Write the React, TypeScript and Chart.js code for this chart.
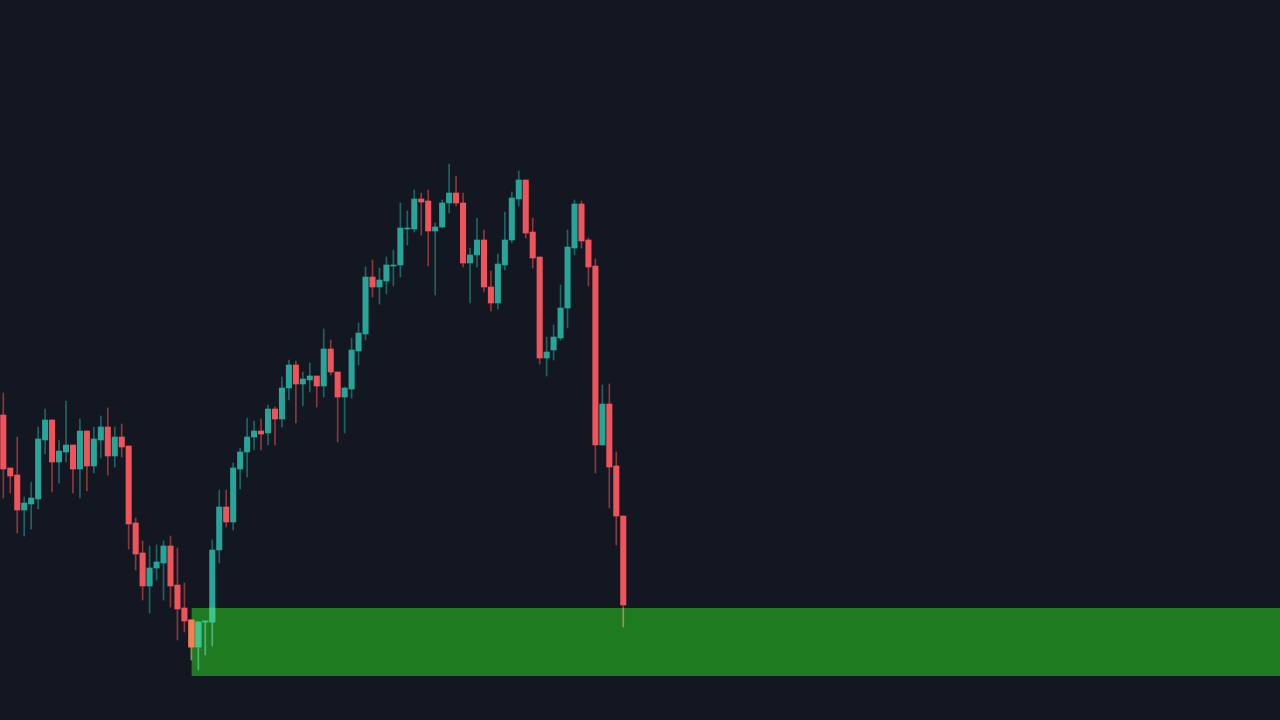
import { useEffect, useRef } from "react"
import Chart from "chart.js/auto"

// candles, price = height above the bottom edge
const opens = [
  305, 252, 245, 210, 216, 221, 280, 300, 258, 268, 275, 251, 289, 254, 280, 293, 264, 283, 274, 197,
  167, 134, 152, 157, 174, 135, 112, 100, 73, 98, 98, 170, 213, 198, 251, 268, 283, 289, 287, 311,
  301, 332, 355, 336, 340, 344, 334, 371, 348, 323, 331, 369, 386, 443, 433, 439, 454, 455, 491, 491,
  521, 519, 489, 493, 517, 527, 517, 457, 465, 480, 433, 417, 455, 480, 521, 540, 488, 463, 362, 370,
  382, 412, 472, 516, 480, 454, 275, 316, 254, 204,
]
const closes = [
  251, 244, 210, 217, 222, 281, 300, 258, 269, 275, 251, 289, 254, 281, 293, 264, 283, 273, 196, 166,
  134, 152, 158, 174, 134, 111, 99, 73, 98, 99, 170, 213, 198, 252, 268, 283, 289, 286, 311, 301,
  332, 355, 336, 341, 344, 334, 371, 348, 323, 332, 370, 387, 443, 433, 440, 455, 455, 492, 492, 521,
  518, 489, 493, 517, 527, 517, 457, 465, 480, 433, 417, 456, 480, 522, 540, 487, 462, 362, 368, 383,
  412, 473, 516, 479, 453, 275, 316, 253, 204, 115,
]
const highs = [
  327, 252, 283, 223, 238, 293, 311, 300, 280, 319, 275, 301, 289, 293, 304, 312, 293, 296, 274, 202,
  179, 174, 175, 179, 184, 172, 137, 100, 98, 99, 180, 230, 230, 257, 272, 302, 299, 301, 315, 313,
  343, 360, 359, 348, 357, 344, 391, 380, 348, 333, 382, 397, 453, 460, 452, 463, 470, 517, 509, 530,
  527, 530, 497, 520, 556, 544, 527, 472, 502, 490, 449, 466, 508, 528, 549, 540, 502, 463, 383, 395,
  435, 490, 520, 519, 482, 461, 335, 336, 268, 204,
]
const lows = [
  222, 227, 187, 184, 191, 211, 266, 228, 237, 258, 227, 222, 229, 247, 262, 245, 253, 263, 171, 150,
  120, 107, 140, 120, 113, 80, 88, 60, 50, 65, 74, 157, 193, 190, 231, 243, 270, 270, 275, 275,
  293, 320, 297, 314, 328, 313, 323, 345, 278, 287, 322, 355, 380, 423, 416, 426, 434, 443, 475, 488,
  485, 454, 425, 492, 507, 514, 453, 417, 453, 428, 409, 411, 450, 477, 514, 482, 452, 356, 344, 360,
  380, 392, 465, 472, 434, 247, 275, 212, 175, 93,
]

const zoneStart = 27
const zoneEnd = 184
const zoneTop = 112
const zoneBottom = 44

const upColor = "#27a598"
const downColor = "#f0535a"
const upWick = "rgba(38,166,154,0.55)"
const downWick = "rgba(239,83,80,0.55)"
// candles look lighter where the zone lies over them
const upInZone = "#3cc68c"
const downInZone = "#ee8452"
const wickInZone = "rgba(130,205,140,0.5)"

export default function App() {
  const chartRef = useRef<HTMLCanvasElement>(null)

  useEffect(() => {
    if (!chartRef.current) return
    const ctx = chartRef.current.getContext("2d")
    if (!ctx) return

    const isUp = (i: number) => closes[i] >= opens[i]

    // part of a range that falls inside the zone, null if nothing does
    const clip = (i: number, a: number, b: number) => {
      const lo = Math.max(Math.min(a, b), zoneBottom)
      const hi = Math.min(Math.max(a, b), zoneTop)
      if (i < zoneStart || lo >= hi) return { x: i, y: null }
      return { x: i, y: [lo, hi] }
    }

    const chart = new Chart(ctx, {
      type: "bar",
      data: {
        datasets: [
          {
            type: "line",
            data: [
              { x: zoneStart, y: zoneTop },
              { x: zoneEnd, y: zoneTop },
            ],
            pointRadius: 0,
            borderWidth: 0,
            backgroundColor: "#1e7b20",
            fill: "+1",
            order: 5,
          },
          {
            type: "line",
            data: [
              { x: zoneStart, y: zoneBottom },
              { x: zoneEnd, y: zoneBottom },
            ],
            pointRadius: 0,
            borderWidth: 0,
            fill: false,
            order: 5,
          },
          {
            data: highs.map((h, i) => ({ x: i, y: [lows[i], h] })),
            backgroundColor: opens.map((_, i) => (isUp(i) ? upWick : downWick)),
            barThickness: 1,
            grouped: false,
            order: 4,
          },
          {
            data: opens.map((o, i) => ({ x: i, y: [o, closes[i]] })),
            backgroundColor: opens.map((_, i) => (isUp(i) ? upColor : downColor)),
            barThickness: 5.4,
            grouped: false,
            order: 3,
          },
          {
            data: highs.map((h, i) => clip(i, lows[i], h)),
            backgroundColor: wickInZone,
            barThickness: 1,
            grouped: false,
            order: 2,
          },
          {
            data: opens.map((o, i) => clip(i, o, closes[i])),
            backgroundColor: opens.map((_, i) => (isUp(i) ? upInZone : downInZone)),
            barThickness: 5.4,
            grouped: false,
            order: 1,
          },
        ],
      } as any,
      options: {
        animation: false,
        responsive: true,
        maintainAspectRatio: false,
        layout: { padding: 0 },
        plugins: {
          legend: { display: false },
          tooltip: { enabled: false },
        },
        scales: {
          x: { type: "linear", display: false, min: -0.474, max: 183.28, offset: false },
          y: { type: "linear", display: false, min: 0, max: 720 },
        },
      },
    })

    return () => chart.destroy()
  }, [])

  return (
    <div style={{ position: "fixed", inset: 0, background: "#131722" }}>
      <canvas ref={chartRef} />
    </div>
  )
}
